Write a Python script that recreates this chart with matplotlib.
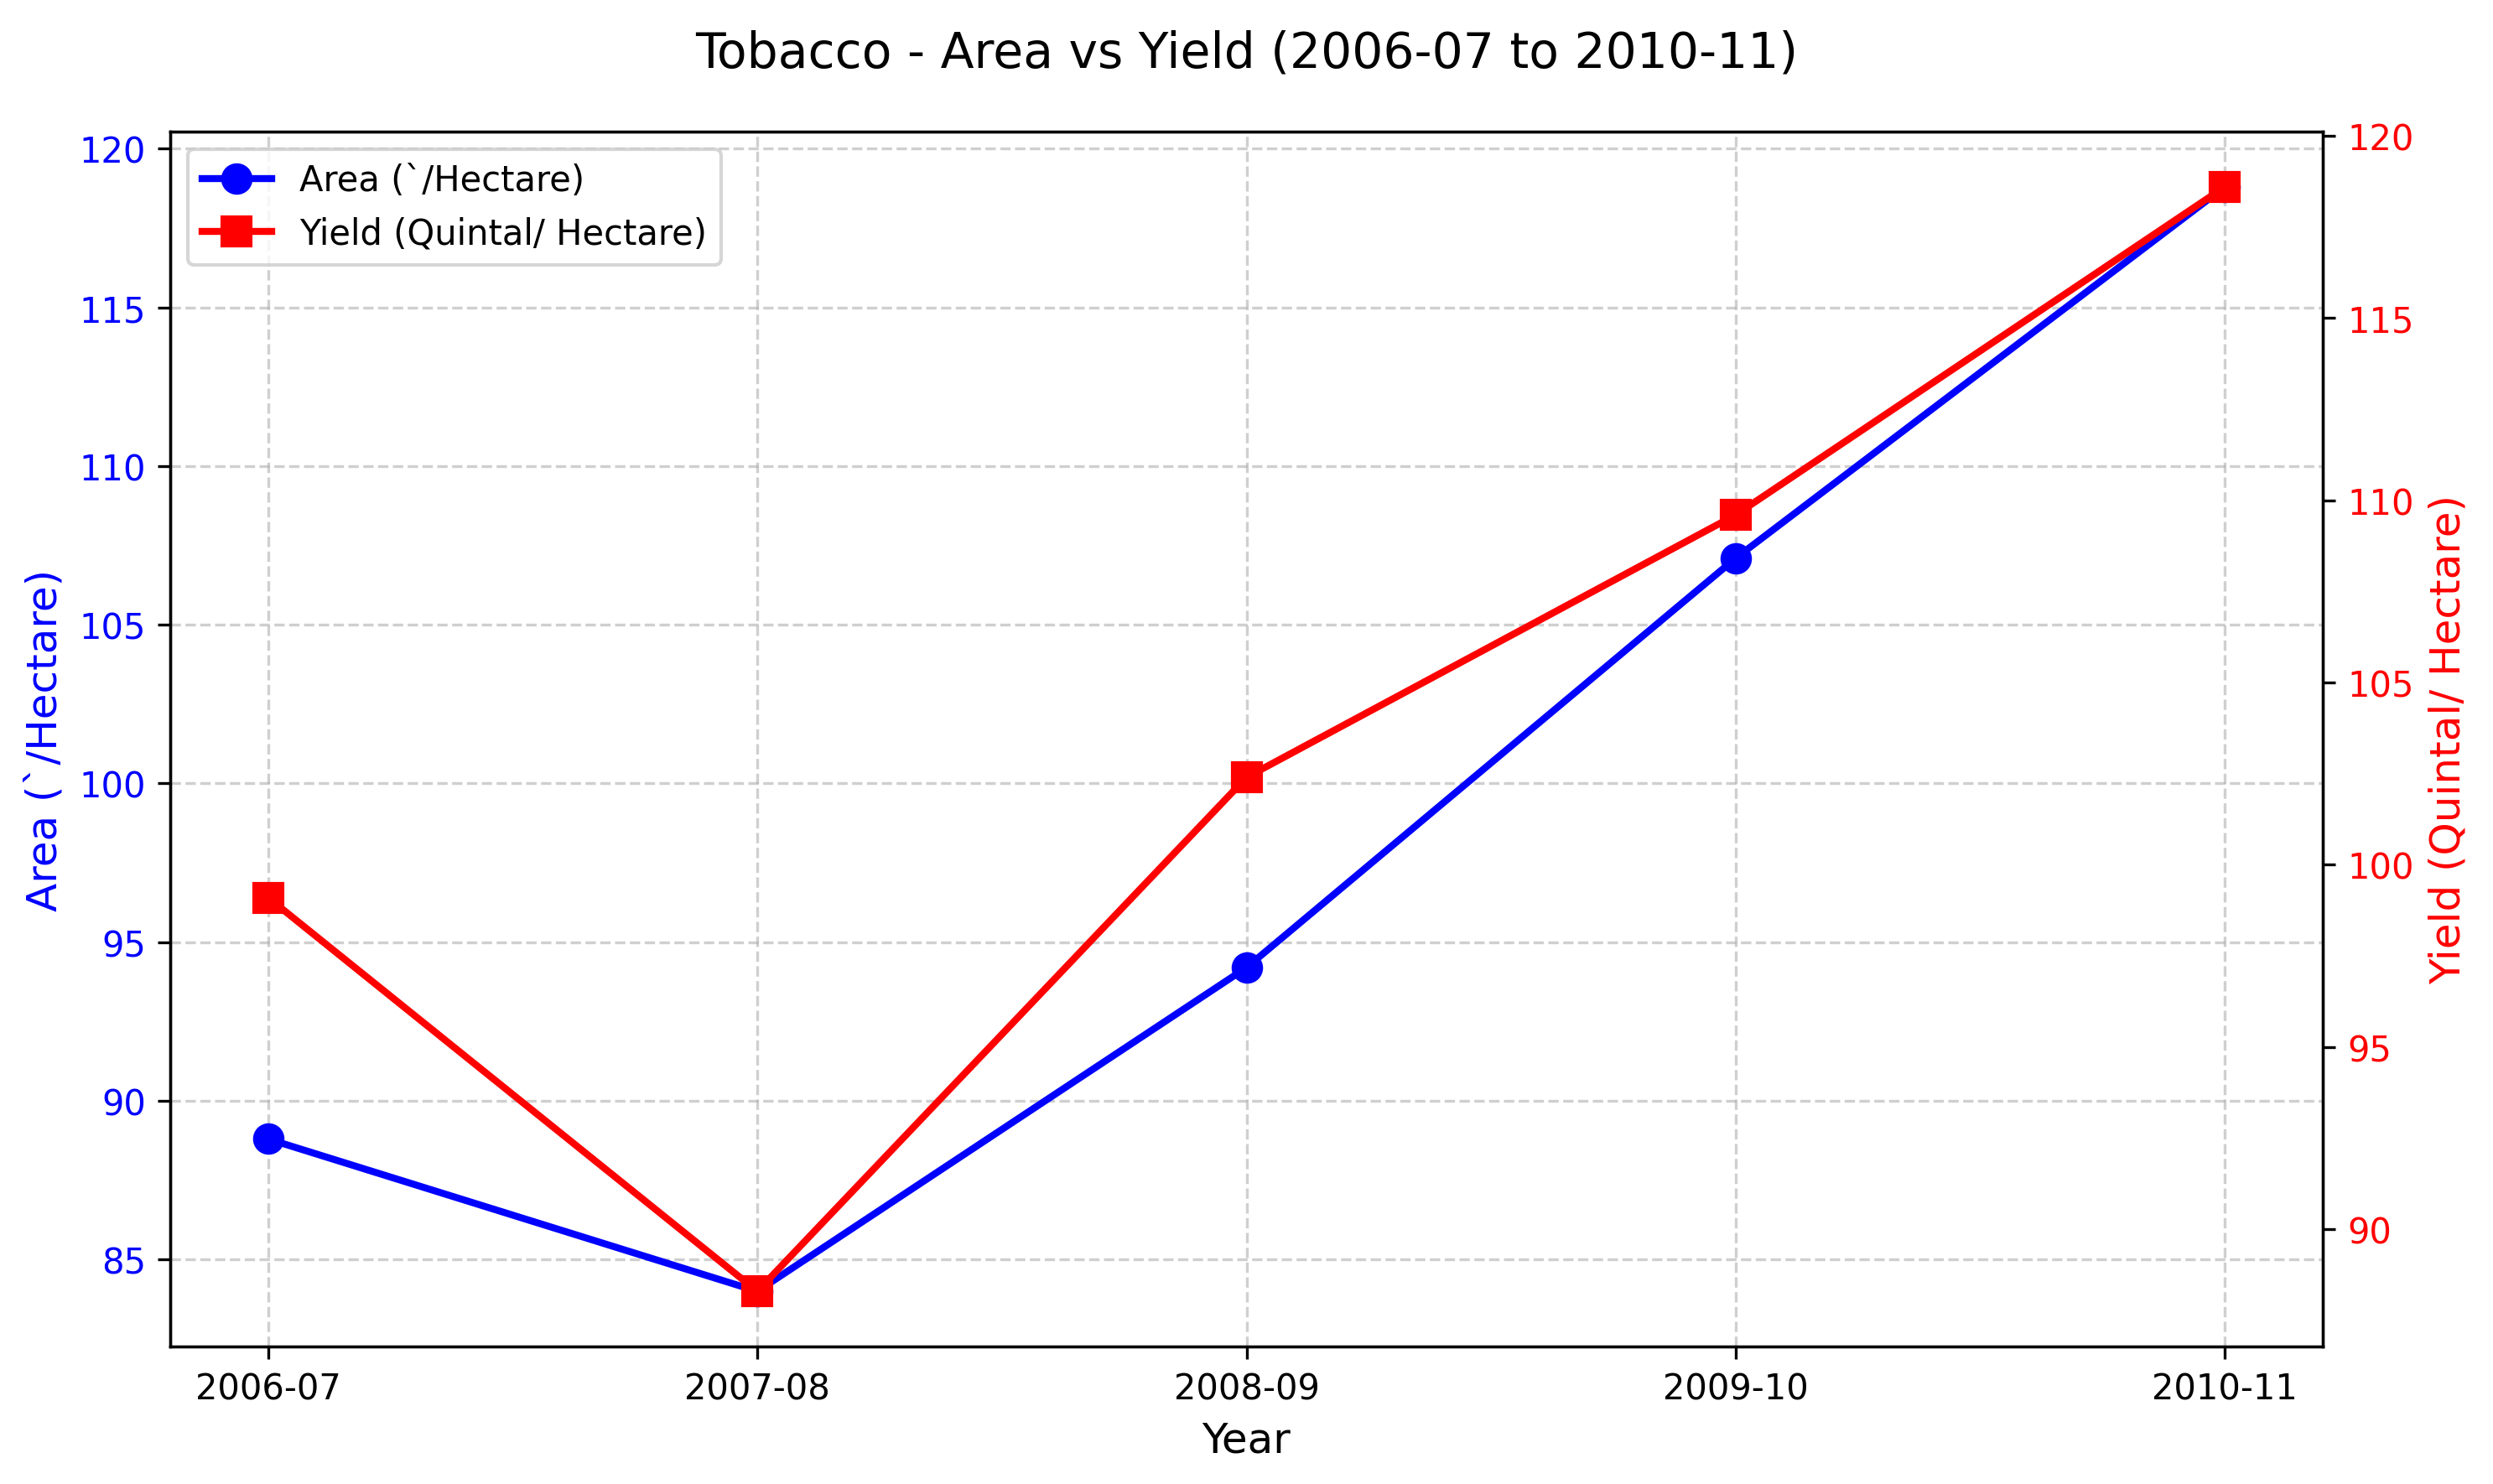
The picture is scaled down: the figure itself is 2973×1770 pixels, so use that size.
import matplotlib
matplotlib.use("Agg")
import matplotlib.pyplot as plt

# --- data ---
years = ["2006-07", "2007-08", "2008-09", "2009-10", "2010-11"]
area = [88.8, 84.0, 94.2, 107.1, 118.8]
yield_q = [99.1, 88.3, 102.4, 109.6, 118.6]

fig, ax1 = plt.subplots(figsize=(9.91, 5.9033), dpi=300)
fig.subplots_adjust(left=0.0683, right=0.9317, top=0.9108, bottom=0.0926)

l1, = ax1.plot(years, area, color="blue", marker="o", markersize=8,
               linewidth=2, label="Area (`/Hectare)")
ax1.set_xlabel("Year", fontsize=12)
ax1.set_ylabel("Area (`/Hectare)", color="blue", fontsize=12)
ax1.tick_params(axis="y", labelcolor="blue")
ax1.grid(True, linestyle="--", alpha=0.6)

ax2 = ax1.twinx()
l2, = ax2.plot(years, yield_q, color="red", marker="s", markersize=8,
               linewidth=2, label="Yield (Quintal/ Hectare)")
ax2.set_ylabel("Yield (Quintal/ Hectare)", color="red", fontsize=12)
ax2.tick_params(axis="y", labelcolor="red")

ax1.legend([l1, l2], [l1.get_label(), l2.get_label()], loc="upper left")
fig.suptitle("Tobacco - Area vs Yield (2006-07 to 2010-11)", fontsize=14)

fig.savefig("out.png", dpi=300)
